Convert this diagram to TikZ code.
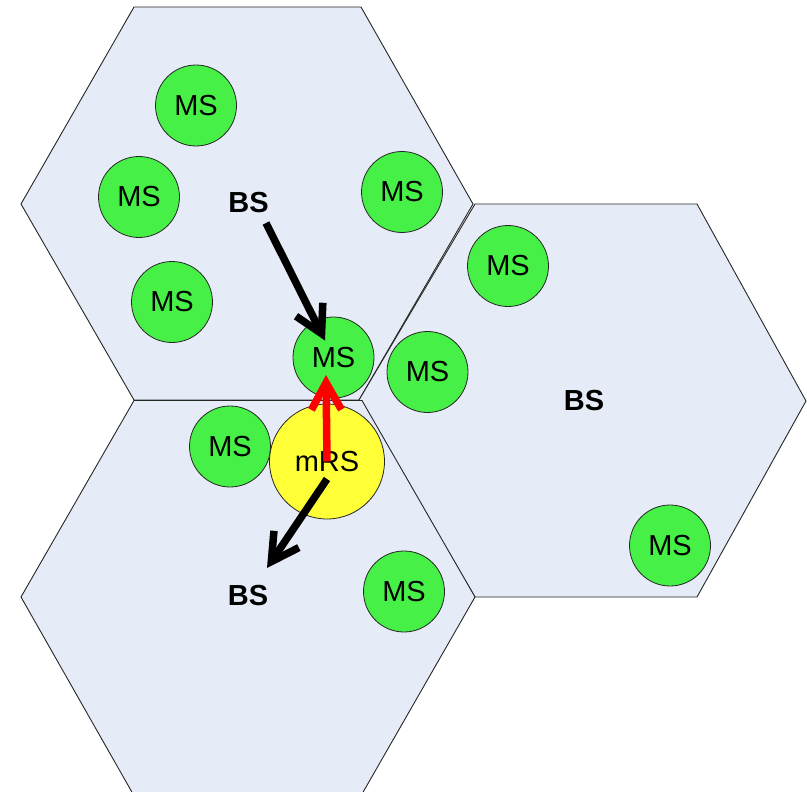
\documentclass[tikz,border=0pt]{standalone}
\usepackage{fontspec}
\setmainfont{Liberation Sans}
\usetikzlibrary{arrows.meta,patterns,calc}
\definecolor{hexfill}{RGB}{230,236,247}
\definecolor{msgreen}{RGB}{70,240,70}
\definecolor{rsyellow}{RGB}{255,255,55}
\definecolor{arrred}{RGB}{255,0,0}
\tikzset{
  hexcell/.style={fill=hexfill, draw=black!85, line width=0.9pt, line join=miter},
  msnode/.style={circle, draw=black!85, line width=0.8pt, minimum size=81pt, inner sep=0pt,
    fill=msgreen, font=\fontsize{29}{32}\selectfont},
  rsnode/.style={circle, draw=black!85, line width=0.8pt, minimum size=115pt, inner sep=0pt,
    fill=rsyellow, font=\fontsize{29}{32}\selectfont},
  bsnode/.style={inner sep=0pt, font=\fontsize{29}{32}\selectfont\bfseries},
  arr/.style={line width=7.5pt, -{Straight Barb[length=27pt,width=30pt]}},
}
\begin{document}
\begin{tikzpicture}[x=1pt,y=-1pt]
\clip (0,0) rectangle (807,792);
\useasboundingbox (0,0) rectangle (807,792);
% hexagonal cells
\draw[hexcell] (134,7) -- (361,7) -- (473,204) -- (359,400) -- (134,400) -- (21,204) -- cycle;
\draw[hexcell] (475,204) -- (697,204) -- (806,401) -- (697,597) -- (475,597) -- (359,400) -- cycle;
\draw[hexcell] (134,400.5) -- (362,400.5) -- (475,597) -- (362,794) -- (133,794) -- (21,597) -- cycle;
% base stations
\node[bsnode] (bs1) at (248.5,203) {BS};
\node[bsnode] (bs2) at (584,401) {BS};
\node[bsnode] (bs3) at (248,596) {BS};
% mobile stations
\node[msnode] (ms1) at (196,105.5) {MS};
\node[msnode] (ms2) at (139,197) {MS};
\node[msnode] (ms3) at (402,192) {MS};
\node[msnode] (ms4) at (172,302) {MS};
\node[msnode] (ms5) at (508,266) {MS};
\node[msnode] (ms6) at (333.5,357.5) {MS};
\node[msnode] (ms7) at (427.5,372) {MS};
\node[msnode] (ms8) at (230,446.5) {MS};
\node[msnode] (ms9) at (404,591.5) {MS};
\node[msnode] (ms10) at (670,545.5) {MS};
% mobile relay station
\node[rsnode] (mrs) at (327,461.5) {mRS};
% links
\draw[arr] ($(bs1)+(17.5,20)$) -- ($(ms6)+(-8.5,-17)$);
\draw[arr, arrred] (mrs.center) -- ($(ms6)+(-7.5,17.5)$);
\draw[arr] ($(mrs)+(0,17.5)$) -- ($(bs3)+(19,-28)$);
\end{tikzpicture}
\end{document}
